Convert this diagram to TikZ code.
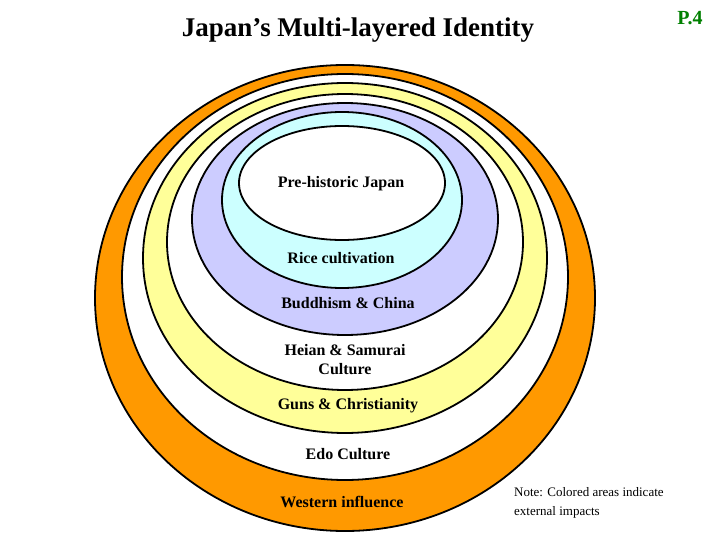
\documentclass[tikz,border=0pt]{standalone}
\usepackage{fontspec}
\setmainfont{Liberation Serif}
\begin{document}
\begin{tikzpicture}[x=1pt,y=-1pt,
  ring/.style={draw=black,line width=1.8pt},
  lbl/.style={font=\bfseries\fontsize{16}{19}\selectfont,align=center,inner sep=0pt}]
\useasboundingbox (0,0) rectangle (720,540);
\definecolor{org}{RGB}{255,153,0}
\definecolor{yel}{RGB}{255,255,153}
\definecolor{lav}{RGB}{204,204,255}
\definecolor{cya}{RGB}{204,255,255}
\definecolor{grn}{RGB}{0,128,0}
\path[ring,fill=org] (345,298) ellipse (250 and 233);
\path[ring,fill=white] (345,277) ellipse (223 and 203);
\path[ring,fill=yel] (345,258) ellipse (202 and 175);
\path[ring,fill=white] (345,242) ellipse (178 and 148);
\path[ring,fill=lav] (345,219) ellipse (153 and 116);
\path[ring,fill=cya] (342,200) ellipse (120 and 88);
\path[ring,fill=white] (342,183) ellipse (103 and 57);
\node[font=\bfseries\fontsize{27}{32}\selectfont,inner sep=0pt] (title) at (358,30) {Japan’s Multi-layered Identity};
\node[font=\bfseries\fontsize{20}{24}\selectfont,text=grn,inner sep=0pt] (page) at (690,18) {P.4};
\node[lbl] (l1) at (341,184) {Pre-historic Japan};
\node[lbl] (l2) at (341,258) {Rice cultivation};
\node[lbl] (l3) at (348,303) {Buddhism \& China};
\node[lbl] (l4) at (345,360) {Heian \& Samurai\\Culture};
\node[lbl] (l5) at (348,406) {Guns \& Christianity};
\node[lbl] (l6) at (348,454) {Edo Culture};
\node[lbl] (l7) at (342,502) {Western influence};
\node[font=\fontsize{13}{19}\selectfont,align=left,anchor=west,inner sep=0pt] (note) at (514,503) {Note: Colored areas indicate\\external impacts};
\end{tikzpicture}
\end{document}
